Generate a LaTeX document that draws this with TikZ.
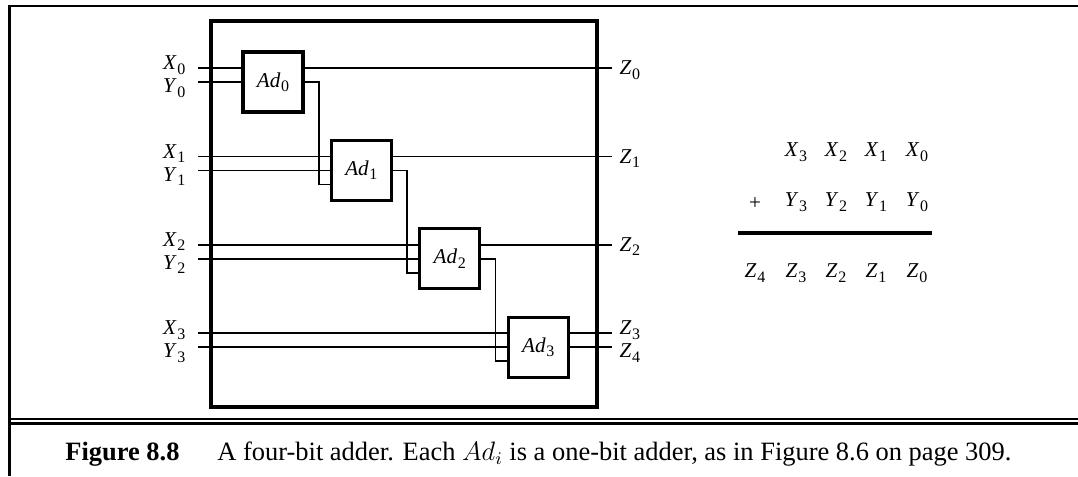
\documentclass[tikz,border=0pt]{standalone}
\usepackage{fontspec}
\setmainfont{Liberation Serif}
\usepackage{tikz}
\usetikzlibrary{calc}

\newcommand{\sig}[2]{\textit{#1}\kern0.03em\raisebox{-0.45ex}{\fontsize{7.2}{8}\selectfont #2}}

\begin{document}
\begin{tikzpicture}[
  x=0.45pt, y=-0.45pt,
  ad/.style={draw, line width=1.4pt, minimum size=27pt, inner sep=0pt,
             font=\fontsize{9.5}{11}\selectfont},
  lb/.style={font=\fontsize{9.5}{11}\selectfont, inner sep=1pt},
  w/.style={line width=0.7pt}
]
\useasboundingbox (0,0) rectangle (1078,476);

% Outer frame and caption rule
\draw[line width=1.3pt] (9.5,476) -- (9.5,6) -- (1078,6);
\draw[line width=1pt] (9.5,419) -- (1078,419);
\draw[line width=1pt] (9.5,423.5) -- (1078,423.5);

% Circuit box
\draw[line width=1.4pt] (211,21) rectangle (597,407);

% One-bit adders
\node[ad] (Ad0) at (273,82)      {\sig{Ad}{0}};
\node[ad] (Ad1) at (361.4,170.4) {\sig{Ad}{1}};
\node[ad] (Ad2) at (449.8,258.8) {\sig{Ad}{2}};
\node[ad] (Ad3) at (538.2,347.2) {\sig{Ad}{3}};

% Input ends
\coordinate (x0) at (198,68);    \coordinate (y0) at (198,82);
\coordinate (x1) at (198,156.4); \coordinate (y1) at (198,170.4);
\coordinate (x2) at (198,244.8); \coordinate (y2) at (198,258.8);
\coordinate (x3) at (198,333.2); \coordinate (y3) at (198,347.2);
\node[lb, anchor=east] (lx0) at (188,65)    {\sig{X}{0}};
\node[lb, anchor=east] (ly0) at (188,88)    {\sig{Y}{0}};
\node[lb, anchor=east] (lx1) at (188,153.4) {\sig{X}{1}};
\node[lb, anchor=east] (ly1) at (188,176.4) {\sig{Y}{1}};
\node[lb, anchor=east] (lx2) at (188,241.8) {\sig{X}{2}};
\node[lb, anchor=east] (ly2) at (188,264.8) {\sig{Y}{2}};
\node[lb, anchor=east] (lx3) at (188,330.2) {\sig{X}{3}};
\node[lb, anchor=east] (ly3) at (188,353.2) {\sig{Y}{3}};

% Output ends
\coordinate (z0) at (612,68);
\coordinate (z1) at (612,156.4);
\coordinate (z2) at (612,244.8);
\coordinate (z3) at (612,333.2);
\coordinate (z4) at (612,347.2);
\node[lb, anchor=west] (lz0) at (617,70)    {\sig{Z}{0}};
\node[lb, anchor=west] (lz1) at (617,158.4) {\sig{Z}{1}};
\node[lb, anchor=west] (lz2) at (617,246.8) {\sig{Z}{2}};
\node[lb, anchor=west] (lz3) at (617,330.2) {\sig{Z}{3}};
\node[lb, anchor=west] (lz4) at (617,353.2) {\sig{Z}{4}};

% Wires in
\draw[w] (x0) -- (x0 -| Ad0.west);  \draw[w] (y0) -- (y0 -| Ad0.west);
\draw[w] (x1) -- (x1 -| Ad1.west);  \draw[w] (y1) -- (y1 -| Ad1.west);
\draw[w] (x2) -- (x2 -| Ad2.west);  \draw[w] (y2) -- (y2 -| Ad2.west);
\draw[w] (x3) -- (x3 -| Ad3.west);  \draw[w] (y3) -- (y3 -| Ad3.west);

% Wires out
\draw[w] (z0 -| Ad0.east) -- (z0);
\draw[w] (z1 -| Ad1.east) -- (z1);
\draw[w] (z2 -| Ad2.east) -- (z2);
\draw[w] (z3 -| Ad3.east) -- (z3);
\draw[w] (Ad3.east) -- (z4);

% Carries
\draw[w] (Ad0.east) -- ++(14.2,0) |- ($(Ad1.west)+(0,14)$);
\draw[w] (Ad1.east) -- ++(14.2,0) |- ($(Ad2.west)+(0,14)$);
\draw[w] (Ad2.east) -- ++(14.2,0) |- ($(Ad3.west)+(0,14)$);

% Column sum
\node[lb] (tx3) at (796,152) {\sig{X}{3}};
\node[lb] (tx2) at (836,152) {\sig{X}{2}};
\node[lb] (tx1) at (876,152) {\sig{X}{1}};
\node[lb] (tx0) at (917,152) {\sig{X}{0}};
\node[lb] (plus) at (755,204) {+};
\node[lb] (ty3) at (796,202) {\sig{Y}{3}};
\node[lb] (ty2) at (836,202) {\sig{Y}{2}};
\node[lb] (ty1) at (876,202) {\sig{Y}{1}};
\node[lb] (ty0) at (917,202) {\sig{Y}{0}};
\draw[line width=1.4pt] (738,233) -- (932,233);
\node[lb] (tz4) at (755,273) {\sig{Z}{4}};
\node[lb] (tz3) at (796,273) {\sig{Z}{3}};
\node[lb] (tz2) at (836,273) {\sig{Z}{2}};
\node[lb] (tz1) at (876,273) {\sig{Z}{1}};
\node[lb] (tz0) at (917,273) {\sig{Z}{0}};

% Caption
\node[anchor=base west, inner sep=0pt, font=\fontsize{11.9}{14}\selectfont\bfseries]
  (fig) at (65,460) {Figure 8.8};
\node[anchor=base west, inner sep=0pt, font=\fontsize{11.9}{14}\selectfont]
  (cap) at (217,460) {A four-bit adder. Each $Ad_i$ is a one-bit adder, as in Figure 8.6 on page 309.};
\end{tikzpicture}
\end{document}
